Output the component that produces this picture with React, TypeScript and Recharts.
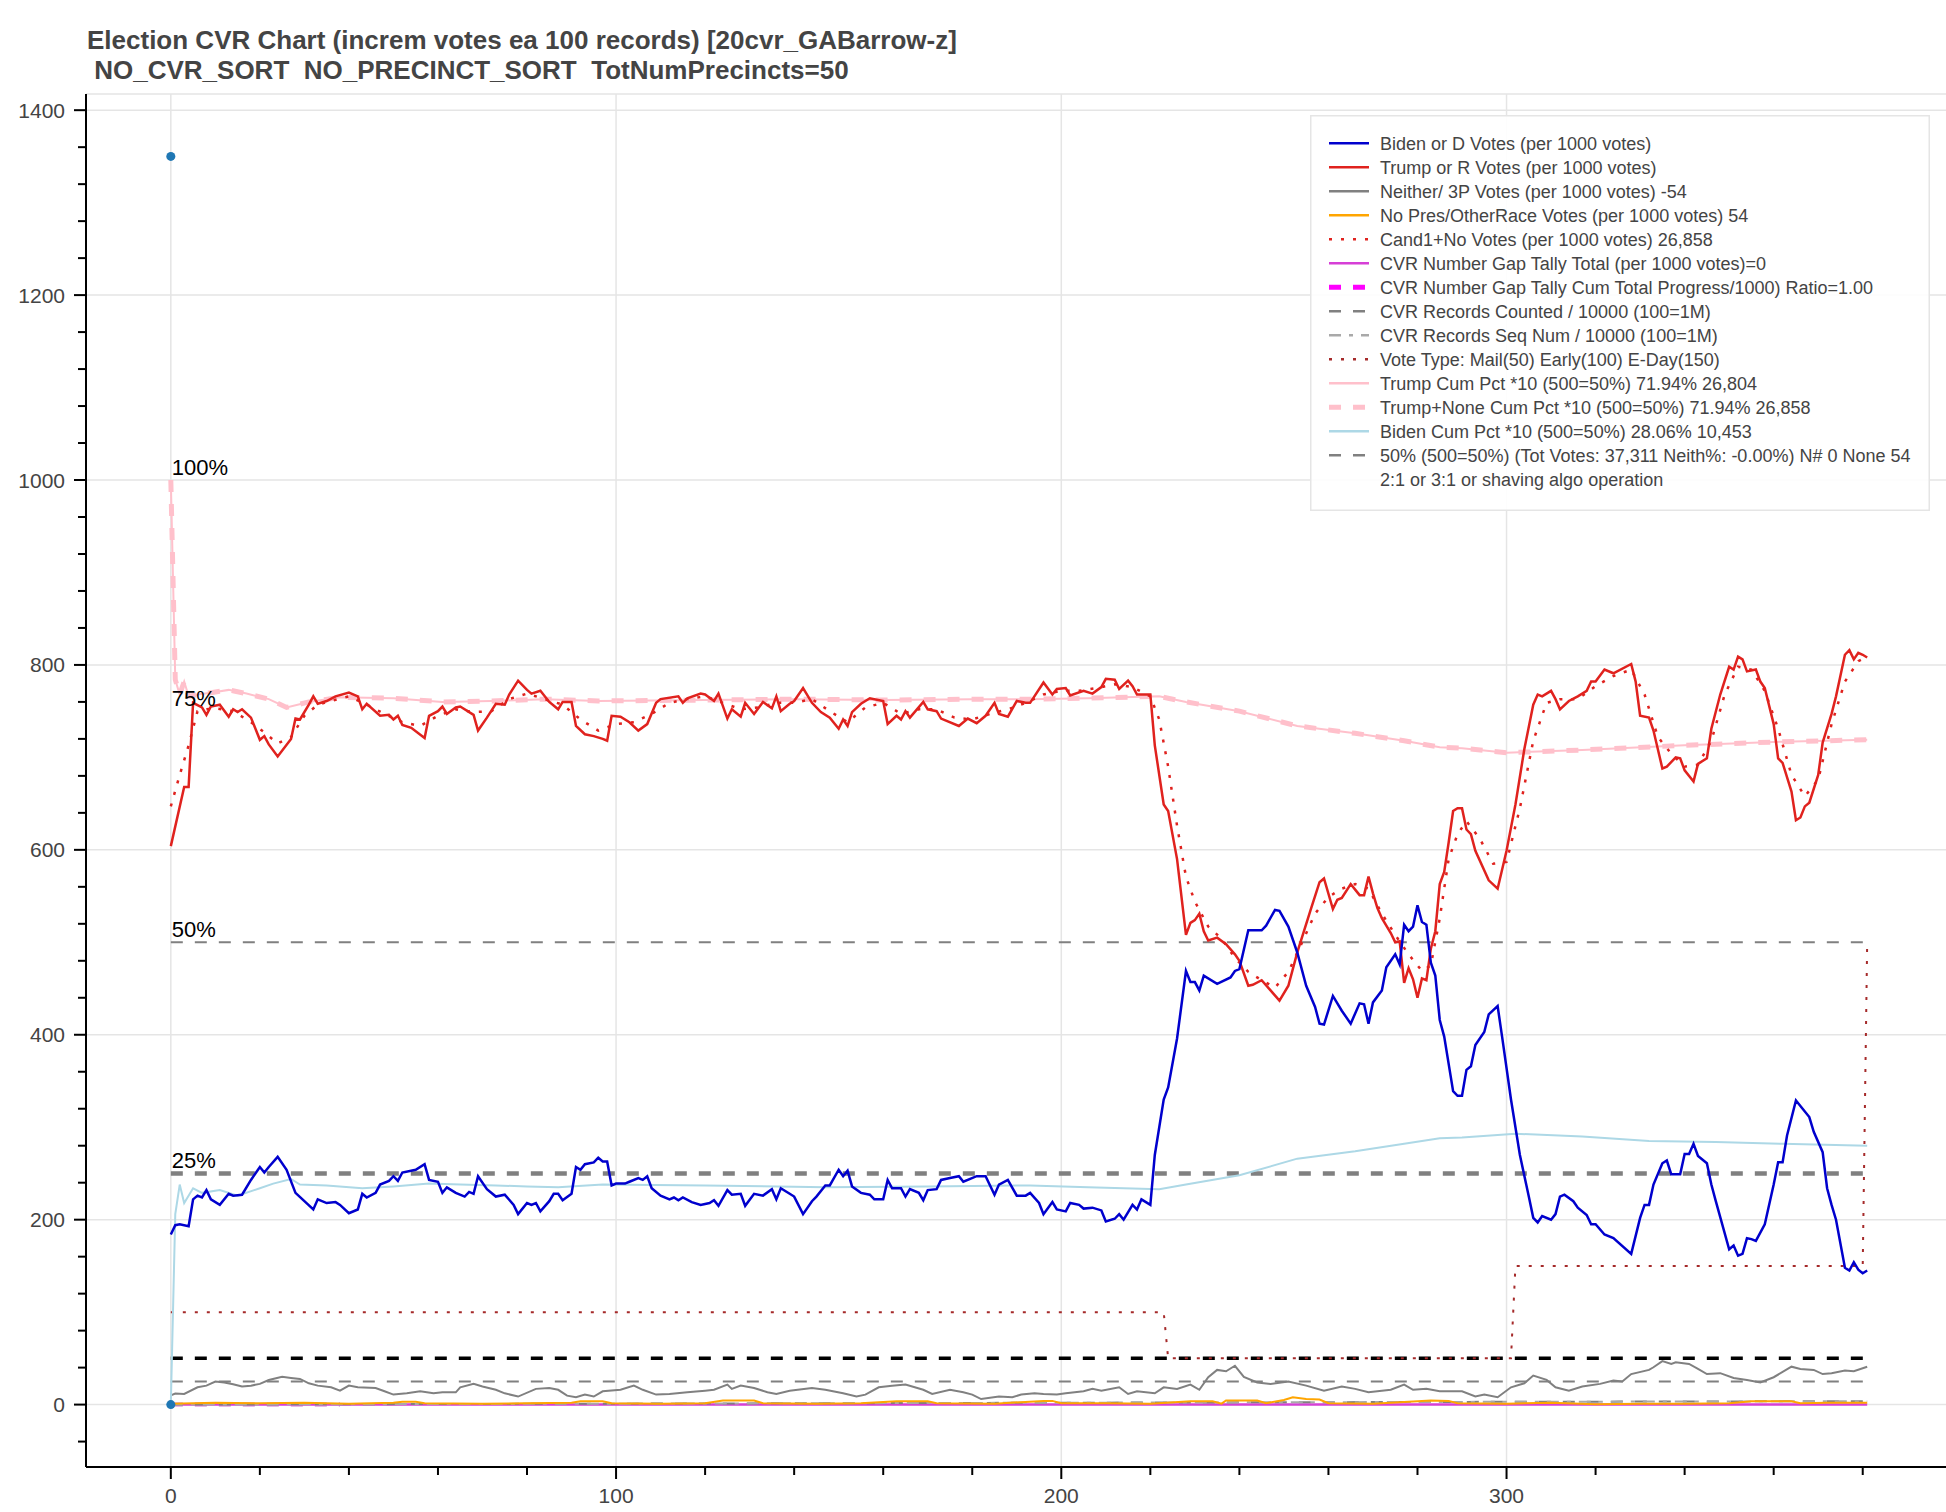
import React from 'react';
import {
  ComposedChart,
  Line,
  Scatter,
  XAxis,
  YAxis,
  CartesianGrid,
  ReferenceDot,
  Legend,
} from 'recharts';

type Pt = [number, number];

const FONT = '"Liberation Sans", Arial, Helvetica, sans-serif';

const TITLE_1 = 'Election CVR Chart (increm votes ea 100 records) [20cvr_GABarrow-z]';
const TITLE_2 = ' NO_CVR_SORT  NO_PRECINCT_SORT  TotNumPrecincts=50';

const X_TICKS = [0, 20, 40, 60, 80, 100, 120, 140, 160, 180, 200, 220, 240, 260, 280, 300, 320, 340, 360, 380];
const Y_TICKS = [
  -40, 0, 40, 80, 120, 160, 200, 240, 280, 320, 360, 400, 440, 480, 520, 560, 600, 640, 680, 720, 760,
  800, 840, 880, 920, 960, 1000, 1040, 1080, 1120, 1160, 1200, 1240, 1280, 1320, 1360, 1400,
];
const X_GRID = [0, 100, 200, 300];
const Y_GRID = [0, 200, 400, 600, 800, 1000, 1200, 1400, 1417.4];

const BIDEN: Pt[] = [
  [0, 184], [1, 194], [2, 195], [4, 193], [5, 222], [6, 226], [7, 224], [8, 232], [9, 222], [11, 216],
  [13, 228], [14, 226], [16, 227], [18, 243], [20, 257], [21, 251], [22, 257], [24, 268], [26, 254], [28, 229],
  [30, 220], [32, 211], [33, 222], [35, 218], [37, 219], [38, 216], [40, 207], [42, 211], [43, 228], [44, 224],
  [46, 229], [47, 238], [49, 242], [50, 247], [51, 242], [52, 251], [55, 254], [57, 260], [58, 243], [60, 241],
  [61, 229], [62, 235], [64, 229], [66, 225], [67, 230], [68, 228], [69, 247], [71, 233], [73, 225], [75, 227],
  [77, 216], [78, 206], [80, 218], [81, 216], [82, 218], [83, 209], [85, 220], [86, 228], [87, 228], [88, 221],
  [90, 228], [91, 257], [92, 254], [93, 260], [95, 262], [96, 267], [97, 263], [98, 263], [99, 237], [100, 239],
  [102, 239], [103, 241], [105, 245], [106, 243], [107, 247], [108, 234], [110, 226], [112, 222], [113, 224], [114, 221],
  [115, 224], [117, 219], [119, 216], [121, 218], [122, 221], [123, 215], [125, 232], [126, 227], [128, 228], [129, 215],
  [131, 228], [133, 226], [135, 233], [136, 222], [137, 234], [139, 228], [140, 225], [142, 206], [144, 220], [145, 225],
  [147, 237], [148, 237], [150, 254], [151, 247], [152, 253], [153, 236], [155, 229], [157, 227], [158, 222], [160, 222],
  [161, 243], [162, 234], [164, 234], [165, 225], [166, 233], [168, 229], [169, 221], [170, 232], [172, 233], [173, 243],
  [175, 245], [177, 247], [178, 241], [181, 247], [183, 247], [185, 227], [186, 238], [188, 243], [190, 226], [192, 226],
  [193, 229], [195, 218], [196, 206], [198, 219], [199, 211], [201, 209], [202, 218], [204, 216], [205, 212], [207, 213],
  [209, 210], [210, 198], [212, 201], [213, 206], [214, 200], [216, 216], [217, 211], [218, 222], [220, 216], [221, 270],
  [223, 330], [224, 343], [226, 396], [228, 469], [229, 457], [230, 457], [231, 448], [232, 464], [235, 455], [238, 462],
  [239, 469], [240, 471], [242, 513], [245, 513], [246, 518], [248, 535], [249, 534], [251, 517], [253, 489], [255, 453],
  [257, 430], [258, 412], [259, 411], [261, 442], [263, 426], [265, 412], [267, 434], [268, 433], [269, 412], [270, 435],
  [272, 448], [273, 473], [275, 487], [276, 476], [277, 519], [278, 512], [279, 517], [280, 540], [281, 522], [282, 519],
  [283, 478], [284, 464], [285, 416], [286, 398], [288, 339], [289, 334], [290, 334], [291, 362], [292, 366], [293, 389],
  [295, 403], [296, 422], [298, 431], [299, 398], [301, 330], [303, 270], [305, 225], [306, 202], [307, 197], [308, 204],
  [310, 200], [311, 206], [312, 225], [313, 227], [315, 220], [316, 213], [318, 205], [319, 195], [320, 195], [322, 184],
  [324, 180], [328, 163], [330, 202], [331, 216], [332, 216], [333, 238], [335, 261], [336, 264], [337, 249], [339, 249],
  [340, 271], [341, 271], [342, 282], [343, 269], [345, 261], [346, 238], [347, 220], [350, 168], [351, 172], [352, 161],
  [353, 163], [354, 180], [355, 179], [356, 177], [358, 195], [360, 238], [361, 262], [362, 262], [363, 291], [365, 329],
  [366, 323], [368, 311], [369, 295], [371, 273], [372, 234], [373, 216], [374, 200], [376, 148], [377, 145], [378, 154],
  [379, 146], [380, 142], [381, 145],
];

const TRUMP: Pt[] = [
  [0, 604], [3, 668], [4, 668], [5, 759], [7, 754], [8, 746], [9, 755], [11, 757], [13, 744], [14, 752],
  [15, 749], [16, 752], [18, 743], [20, 719], [21, 723], [22, 714], [24, 701], [27, 720], [28, 742], [29, 741],
  [31, 757], [32, 766], [33, 758], [35, 761], [37, 766], [40, 770], [42, 766], [43, 752], [44, 758], [47, 745],
  [49, 746], [50, 741], [51, 745], [52, 735], [54, 732], [57, 721], [58, 745], [60, 750], [61, 755], [62, 747],
  [64, 754], [65, 755], [68, 746], [69, 729], [71, 743], [73, 758], [75, 757], [76, 768], [78, 783], [80, 773],
  [81, 769], [83, 772], [85, 760], [87, 752], [88, 760], [90, 760], [91, 734], [93, 725], [95, 723], [97, 720],
  [98, 718], [99, 745], [101, 744], [103, 738], [105, 729], [107, 736], [109, 759], [110, 763], [114, 766], [115, 759],
  [116, 764], [119, 769], [120, 768], [122, 761], [123, 769], [125, 742], [126, 752], [128, 744], [129, 759], [131, 747],
  [133, 760], [135, 753], [136, 766], [137, 750], [139, 758], [140, 761], [142, 775], [144, 759], [146, 749], [148, 743],
  [150, 731], [151, 741], [152, 734], [153, 749], [155, 758], [157, 764], [160, 761], [161, 736], [163, 745], [164, 741],
  [165, 750], [166, 743], [169, 760], [170, 752], [172, 750], [173, 742], [177, 734], [179, 742], [181, 737], [183, 745],
  [185, 759], [186, 747], [188, 744], [190, 761], [192, 759], [193, 759], [196, 781], [198, 768], [199, 774], [201, 775],
  [202, 767], [205, 772], [207, 769], [209, 776], [210, 785], [212, 784], [213, 774], [215, 783], [216, 777], [217, 768],
  [219, 768], [220, 768], [221, 713], [223, 649], [224, 642], [226, 590], [228, 508], [229, 521], [230, 524], [231, 531],
  [232, 512], [233, 502], [235, 505], [237, 498], [239, 487], [240, 480], [242, 453], [243, 454], [245, 459], [247, 448],
  [249, 437], [251, 453], [253, 489], [256, 535], [258, 565], [259, 569], [261, 536], [262, 546], [263, 548], [265, 563],
  [266, 557], [267, 551], [268, 551], [269, 571], [270, 553], [271, 537], [272, 526], [274, 510], [275, 500], [276, 501],
  [277, 456], [278, 472], [279, 460], [280, 440], [281, 461], [282, 459], [283, 493], [284, 512], [285, 563], [286, 576],
  [287, 608], [288, 642], [289, 645], [290, 645], [291, 622], [292, 617], [293, 599], [296, 567], [298, 558], [300, 599],
  [302, 649], [304, 709], [306, 757], [307, 768], [308, 766], [310, 772], [311, 763], [312, 752], [314, 761], [316, 766],
  [318, 772], [319, 782], [320, 782], [322, 795], [324, 791], [328, 801], [329, 782], [330, 745], [332, 743], [333, 729],
  [335, 688], [336, 690], [338, 700], [339, 699], [340, 686], [342, 674], [343, 693], [345, 699], [346, 731], [348, 768],
  [350, 798], [351, 795], [352, 809], [353, 806], [354, 793], [356, 795], [357, 782], [358, 775], [360, 736], [361, 699],
  [362, 694], [364, 663], [365, 632], [366, 635], [367, 647], [368, 651], [370, 681], [371, 716], [373, 747], [374, 766],
  [376, 811], [377, 816], [378, 806], [379, 813], [380, 811], [381, 808],
];

const CAND1_NO: Pt[] = [
  [0, 647], [2, 681], [4, 713], [6, 750], [8, 752], [10, 753], [14, 750], [18, 738], [21, 727], [24, 715],
  [27, 722], [30, 745], [33, 757], [36, 761], [40, 766], [44, 757], [48, 747], [52, 738], [56, 734], [60, 745],
  [64, 752], [68, 749], [72, 750], [76, 763], [80, 769], [84, 763], [88, 757], [92, 741], [96, 729], [100, 736],
  [104, 738], [108, 747], [112, 759], [116, 763], [120, 766], [124, 759], [128, 752], [132, 754], [136, 759], [140, 759],
  [144, 763], [148, 750], [152, 738], [156, 754], [160, 759], [164, 747], [168, 752], [172, 752], [176, 743], [180, 741],
  [184, 747], [188, 752], [192, 759], [196, 768], [200, 772], [204, 772], [208, 775], [212, 779], [216, 776], [220, 766],
  [222, 741], [224, 690], [226, 626], [228, 571], [230, 544], [233, 517], [236, 504], [239, 483], [242, 468], [245, 459],
  [248, 451], [251, 468], [254, 499], [257, 531], [260, 549], [263, 558], [266, 563], [269, 558], [272, 531], [275, 508],
  [278, 487], [281, 469], [283, 475], [285, 526], [287, 590], [289, 617], [291, 631], [294, 612], [297, 585], [300, 587],
  [303, 645], [306, 718], [309, 759], [312, 763], [316, 763], [320, 777], [324, 788], [328, 795], [331, 768], [334, 722],
  [337, 704], [340, 690], [343, 692], [346, 718], [349, 768], [352, 798], [355, 795], [358, 772], [361, 731], [364, 681],
  [367, 658], [370, 676], [373, 736], [376, 782], [379, 804], [381, 809],
];

const NEITHER: Pt[] = [
  [0, 10], [1, 12], [3, 11.5], [6, 18.7], [8, 20.5], [10, 25], [12, 24], [14, 22], [16, 19.5], [18, 20.5],
  [20, 22.4], [22, 26.6], [25, 30], [27, 28.8], [29, 27.8], [31, 23], [33, 20.5], [36, 18.7], [38, 15], [40, 20.5],
  [42, 18.7], [46, 18], [48, 14.4], [50, 10.8], [53, 12.2], [56, 14.4], [59, 12.2], [61, 13.3], [64, 13.3], [65, 18.7],
  [68, 22.4], [70, 19.5], [73, 16], [75, 12.2], [78, 8.7], [82, 17], [85, 18], [87, 16], [89, 9.7], [91, 7.9],
  [93, 10.8], [95, 8.7], [97, 14.4], [101, 16], [104, 20.5], [106, 16], [109, 10.8], [112, 11.5], [116, 13.3], [120, 15],
  [122, 16], [125, 21.6], [126, 17], [128, 20.5], [131, 18], [134, 13.3], [136, 11.5], [139, 15], [144, 18], [147, 16],
  [151, 12.2], [154, 8.7], [156, 10.8], [159, 18.7], [162, 20.5], [165, 21.6], [169, 16], [171, 11.5], [175, 16], [178, 13.3],
  [180, 10.8], [182, 6], [186, 8.7], [189, 8], [191, 10.8], [194, 12.2], [196, 11.5], [199, 10.8], [201, 12.2], [205, 14.4],
  [207, 17], [209, 15], [213, 18.7], [215, 11.5], [217, 14.4], [221, 12.2], [223, 18.7], [226, 17], [229, 21.6], [231, 16],
  [233, 29.6], [235, 37.5], [237, 36], [239, 42], [241, 30], [244, 24], [247, 22.4], [251, 25], [255, 20.5], [259, 15],
  [263, 19.5], [266, 17], [269, 13.3], [274, 16], [277, 21.6], [279, 16], [282, 17], [285, 14.4], [290, 14.4], [293, 8.7],
  [295, 10.8], [298, 7.9], [301, 18.7], [304, 23], [306, 31.4], [309, 26.7], [311, 18.7], [314, 15], [317, 19.5], [321, 22.4],
  [324, 26], [326, 25], [328, 33], [332, 37.5], [333, 40.4], [335, 47], [337, 44], [338, 45.8], [341, 44], [343, 38.6],
  [345, 33], [348, 34], [351, 28.8], [354, 26.7], [357, 24], [360, 29.6], [364, 41], [366, 38.6], [369, 37.5], [371, 33],
  [373, 34], [376, 36.8], [378, 36], [381, 41],
];

const NO_PRES: Pt[] = [
  [0, 1], [10, 2], [20, 1.5], [30, 2], [40, 1], [50, 2], [52, 3], [55, 3], [57, 1.5], [70, 1],
  [80, 1.5], [90, 2], [92, 3.5], [97, 3.5], [99, 1.5], [110, 1], [120, 1.5], [124, 4.5], [131, 4.5], [133, 1.5],
  [145, 1], [155, 1.5], [163, 3.5], [170, 3.5], [172, 1.5], [185, 1], [196, 4], [198, 4], [200, 1.5], [210, 1.5],
  [220, 1], [229, 3.5], [234, 3.5], [236, 1], [237, 4.5], [244, 4.5], [246, 1.5], [250, 5], [252, 8], [255, 6],
  [258, 5.5], [260, 1.5], [270, 1], [283, 4.5], [287, 4], [289, 1.5], [300, 1], [310, 2], [320, 0.5], [330, 1],
  [340, 1], [350, 1.5], [355, 3.5], [364, 3.5], [366, 1.5], [372, 2], [381, 2],
];

const GAP_TOTAL: Pt[] = [[0, 0], [381, 0]];
const GAP_CUM: Pt[] = [[0, 0], [38, 0]];
const RECORDS_COUNTED: Pt[] = [[0, 0], [100, 1], [200, 2], [300, 3], [381, 3.7]];
const RECORDS_SEQ: Pt[] = [[0, 0], [100, 1], [200, 2], [300, 3], [381, 3.7]];
const VOTE_TYPE: Pt[] = [[0, 100], [223, 100], [224, 50], [301, 50], [302, 150], [380, 150], [381, 500]];

const TRUMP_CUM: Pt[] = [
  [0, 1000], [1, 784], [2, 768], [3, 782], [4, 766], [6, 768], [9, 770], [13, 773], [17, 769], [22, 763],
  [26, 754], [31, 760], [38, 765], [50, 764], [61, 760], [72, 761], [84, 763], [96, 761], [120, 762], [140, 763],
  [160, 762], [180, 763], [193, 763], [206, 764], [222, 766], [228, 760], [240, 750], [253, 734], [266, 726], [277, 718],
  [285, 711], [290, 710], [300, 705], [317, 708], [340, 713], [362, 717], [381, 719],
];
const TRUMP_NONE_CUM: Pt[] = [
  [0, 1000], [1, 784], [2, 768], [3, 782], [4, 766], [6, 768], [9, 770], [13, 773], [17, 769], [22, 763],
  [26, 754], [31, 760], [38, 765], [50, 764], [61, 760], [72, 761], [84, 763], [96, 761], [120, 762], [140, 763],
  [160, 762], [180, 763], [193, 763], [206, 764], [222, 766], [228, 760], [240, 750], [253, 734], [266, 726], [277, 718],
  [285, 711], [290, 710], [300, 705], [317, 708], [340, 713], [362, 717], [381, 719],
];
const BIDEN_CUM: Pt[] = [
  [0, 0], [1, 206], [2, 238], [3, 218], [5, 234], [7, 229], [11, 232], [15, 226], [20, 234], [23, 239],
  [27, 244], [29, 238], [35, 237], [43, 234], [50, 236], [58, 239], [65, 238], [73, 237], [80, 236], [87, 235],
  [97, 238], [120, 237], [147, 235], [170, 236], [193, 237], [206, 235], [222, 233], [228, 238], [240, 248], [253, 266],
  [266, 274], [277, 282], [285, 288], [290, 289], [302, 293], [317, 290], [332, 285], [347, 284], [362, 282], [381, 280],
];

const FIFTY_PCT: Pt[] = [[0, 500], [381, 500]];
const QUARTER_LINE: Pt[] = [[0, 250], [381, 250]];
const FIFTY_LINE: Pt[] = [[0, 50], [381, 50]];
const TWENTY_FIVE_LINE: Pt[] = [[0, 25], [381, 25]];
const START_DOTS: Pt[] = [[0, 1350], [0, 0]];

const PCT_MARKS: Pt[] = [[0, 1000], [0, 750], [0, 500], [0, 250]];
const PCT_TEXT = ['100%', '75%', '50%', '25%'];

const LEGEND_LABELS = [
  'Biden or D Votes (per 1000 votes)',
  'Trump or R Votes (per 1000 votes)',
  'Neither/ 3P Votes (per 1000 votes) -54',
  'No Pres/OtherRace Votes (per 1000 votes) 54',
  'Cand1+No Votes (per 1000 votes) 26,858',
  'CVR Number Gap Tally Total (per 1000 votes)=0',
  'CVR Number Gap Tally Cum Total Progress/1000) Ratio=1.00',
  'CVR Records Counted / 10000 (100=1M)',
  'CVR Records Seq Num / 10000 (100=1M)',
  'Vote Type: Mail(50) Early(100) E-Day(150)',
  'Trump Cum Pct *10 (500=50%) 71.94% 26,804',
  'Trump+None Cum Pct *10 (500=50%) 71.94% 26,858',
  'Biden Cum Pct *10 (500=50%) 28.06% 10,453',
  '50% (500=50%) (Tot Votes: 37,311 Neith%: -0.00%) N# 0 None 54',
  '2:1 or 3:1 or shaving algo operation',
];

const BLUE = '#0000cd';
const RED = '#e0221e';
const DOTTED = '3 9';
const DASHED = '12 12';
const DASHDOT = '12 8 4 8';

type Glyph = { color: string; width: number; dash?: string } | null;
const LEGEND_GLYPHS: Glyph[] = [
  { color: BLUE, width: 2.5 },
  { color: RED, width: 2.5 },
  { color: 'gray', width: 2.5 },
  { color: 'orange', width: 2.5 },
  { color: RED, width: 2.5, dash: DOTTED },
  { color: '#d63fd6', width: 2.5 },
  { color: 'magenta', width: 5, dash: DASHED },
  { color: 'gray', width: 2.5, dash: DASHED },
  { color: 'darkgray', width: 2.5, dash: DASHDOT },
  { color: 'brown', width: 2.5, dash: DOTTED },
  { color: 'pink', width: 2.5 },
  { color: 'pink', width: 5, dash: DASHED },
  { color: 'lightblue', width: 2.5 },
  { color: 'gray', width: 2.5, dash: DASHED },
  null,
];

const toXY = (a: Pt[]) => a.map(([x, y]) => ({ x, y }));

function XTick(props: any) {
  const { x, y, payload } = props;
  const major = payload.value % 100 === 0;
  return (
    <g>
      <line x1={x} x2={x} y1={y} y2={y + (major ? 12 : 8)} stroke="#000" strokeWidth={2} />
      {major && (
        <text x={x} y={y + 36} textAnchor="middle" fill="#444" fontSize={21} fontFamily={FONT}>
          {payload.value}
        </text>
      )}
    </g>
  );
}

function YTick(props: any) {
  const { x, y, payload } = props;
  const major = payload.value % 200 === 0;
  return (
    <g>
      <line x1={x} x2={x - (major ? 12 : 8)} y1={y} y2={y} stroke="#000" strokeWidth={2} />
      {major && (
        <text x={x - 21} y={y + 7.5} textAnchor="end" fill="#444" fontSize={21} fontFamily={FONT}>
          {payload.value}
        </text>
      )}
    </g>
  );
}

function PctLabel(props: any) {
  const { viewBox, text } = props;
  return (
    <text x={viewBox.x + 1} y={viewBox.y - 5} fill="#000" fontSize={22} fontFamily={FONT}>
      {text}
    </text>
  );
}

function LegendBox() {
  return (
    <svg width={620} height={396} style={{ display: 'block' }}>
      <rect x={0.75} y={0.75} width={618.5} height={394.5} fill="#fff" fillOpacity={0.9} stroke="#e5e5e5" strokeWidth={1.5} />
      {LEGEND_LABELS.map((label, i) => {
        const cy = 28.3 + 24 * i;
        const g = LEGEND_GLYPHS[i];
        return (
          <g key={label}>
            {g && (
              <line x1={19} x2={59} y1={cy} y2={cy} stroke={g.color} strokeWidth={g.width} strokeDasharray={g.dash} />
            )}
            <text x={70} y={cy + 6.5} fill="#444" fontSize={18} fontFamily={FONT}>
              {label}
            </text>
          </g>
        );
      })}
    </svg>
  );
}

export default function App() {
  const line = (data: Pt[], color: string, width: number, dash?: string, key?: string) => (
    <Line
      key={key}
      data={toXY(data)}
      dataKey="y"
      type="linear"
      stroke={color}
      strokeWidth={width}
      strokeDasharray={dash}
      dot={false}
      activeDot={false}
      isAnimationActive={false}
    />
  );

  return (
    <div
      style={{
        position: 'absolute',
        left: 0,
        top: 0,
        width: 1946,
        height: 1512,
        overflow: 'hidden',
        background: '#fff',
        fontFamily: FONT,
      }}
    >
      <div style={{ position: 'absolute', left: 0, top: 0 }}>
        <ComposedChart width={1952} height={1512} margin={{ top: 94, right: 0, bottom: 0, left: 0 }}>
          <CartesianGrid
            horizontalValues={Y_GRID}
            verticalValues={X_GRID}
            stroke="#e5e5e5"
            strokeWidth={1.5}
          />
          <XAxis
            type="number"
            dataKey="x"
            domain={[-19.05, 400.05]}
            allowDataOverflow
            ticks={X_TICKS}
            interval={0}
            height={45}
            tickSize={0}
            tickMargin={0}
            tickLine={false}
            tick={<XTick />}
            axisLine={{ stroke: '#000', strokeWidth: 2 }}
          />
          <YAxis
            type="number"
            dataKey="y"
            domain={[-67.5, 1417.5]}
            allowDataOverflow
            ticks={Y_TICKS}
            interval={0}
            width={86}
            tickSize={0}
            tickMargin={0}
            tickLine={false}
            tick={<YTick />}
            axisLine={{ stroke: '#000', strokeWidth: 2 }}
          />
          {line(FIFTY_PCT, 'gray', 2, DASHED, 'fifty')}
          {line(QUARTER_LINE, 'gray', 4.5, DASHED, 'quarter')}
          {line(FIFTY_LINE, '#000', 3.5, DASHED, 'fiftyline')}
          {line(TWENTY_FIVE_LINE, 'gray', 2, DASHED, 'twentyfive')}
          {line(GAP_TOTAL, '#d63fd6', 2.5, undefined, 'gaptotal')}
          {line(GAP_CUM, '#d070d0', 4, DASHED, 'gapcum')}
          {line(RECORDS_COUNTED, 'gray', 2, DASHED, 'counted')}
          {line(RECORDS_SEQ, 'darkgray', 2, DASHDOT, 'seq')}
          {line(NO_PRES, 'orange', 2, undefined, 'nopres')}
          {line(NEITHER, 'gray', 2, undefined, 'neither')}
          {line(VOTE_TYPE, 'brown', 2, DOTTED, 'votetype')}
          {line(BIDEN_CUM, 'lightblue', 2, undefined, 'bidencum')}
          {line(TRUMP_CUM, 'pink', 2, undefined, 'trumpcum')}
          {line(TRUMP_NONE_CUM, 'pink', 5, DASHED, 'trumpnonecum')}
          {line(CAND1_NO, RED, 2.5, DOTTED, 'cand1')}
          {line(TRUMP, RED, 2.5, undefined, 'trump')}
          {line(BIDEN, BLUE, 2.5, undefined, 'biden')}
          <Scatter data={toXY(START_DOTS)} dataKey="y" fill="#1f77b4" isAnimationActive={false} />
          {PCT_MARKS.map(([x, y], i) => (
            <ReferenceDot
              key={PCT_TEXT[i]}
              x={x}
              y={y}
              r={0}
              fill="none"
              stroke="none"
              label={<PctLabel text={PCT_TEXT[i]} />}
            />
          ))}
          <Legend
            layout="horizontal"
            verticalAlign="middle"
            align="center"
            wrapperStyle={{ left: 1310, top: 115, width: 620, height: 396 }}
            content={() => <LegendBox />}
          />
        </ComposedChart>
      </div>
      <svg width={1100} height={92} style={{ position: 'absolute', left: 0, top: 0 }}>
        <text x={87} y={49} fill="#444" fontSize={26} fontWeight="bold" fontFamily={FONT}>
          {TITLE_1}
        </text>
        <text x={87} y={79} fill="#444" fontSize={26} fontWeight="bold" fontFamily={FONT} style={{ whiteSpace: 'pre' }}>
          {TITLE_2}
        </text>
      </svg>
    </div>
  );
}
